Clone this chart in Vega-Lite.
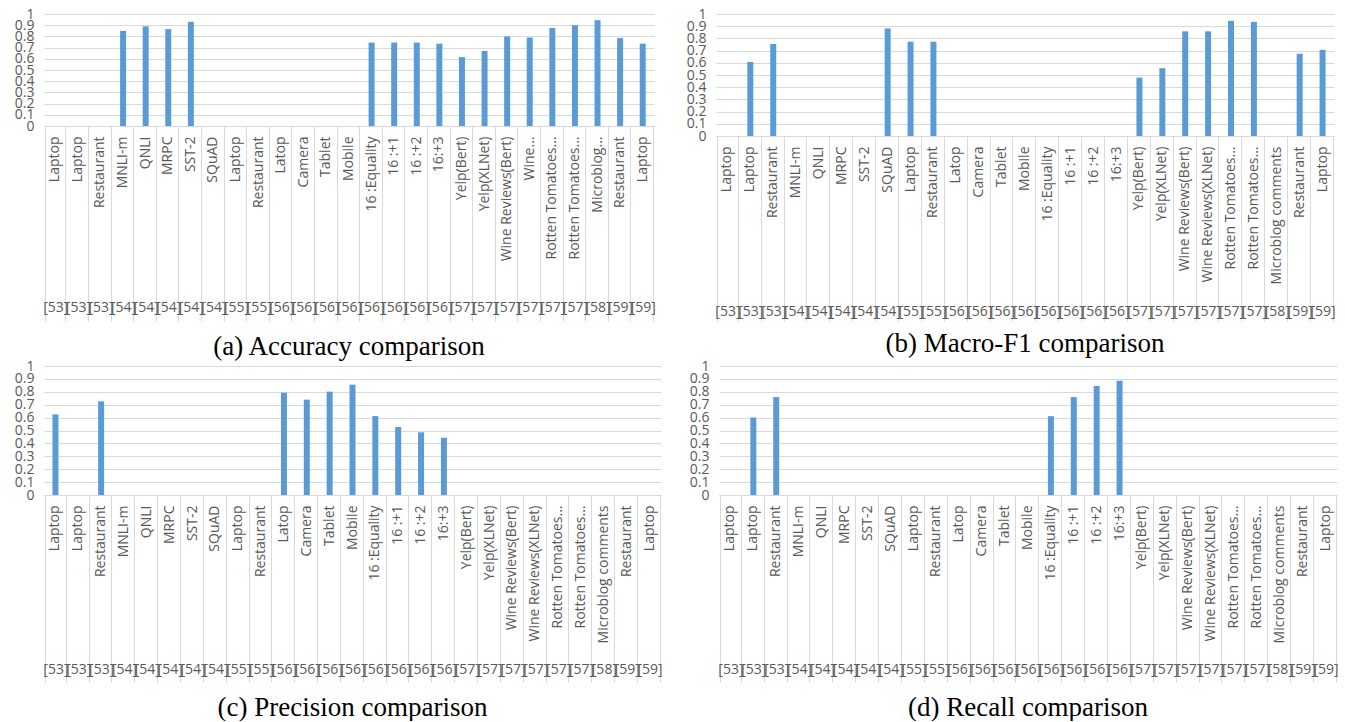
{
  "$schema": "https://vega.github.io/schema/vega-lite/v6.json",
  "background": "white",
  "padding": {"left": 14, "top": 7, "right": 0, "bottom": 0},
  "config": {
    "view": {"stroke": null},
    "axis": {"labelFont": "Open Sans", "labelFontSize": 14, "labelColor": "#595959"},
    "title": {"font": "Liberation Serif", "fontSize": 27, "fontWeight": "normal", "color": "#000000"}
  },
  "datasets": {
    "acc": [
      {"cat": "01|Laptop|[53]", "value": null},
      {"cat": "02|Laptop|[53]", "value": null},
      {"cat": "03|Restaurant|[53]", "value": null},
      {"cat": "04|MNLI-m|[54]", "value": 0.85},
      {"cat": "05|QNLI|[54]", "value": 0.89},
      {"cat": "06|MRPC|[54]", "value": 0.865},
      {"cat": "07|SST-2|[54]", "value": 0.93},
      {"cat": "08|SQuAD|[54]", "value": null},
      {"cat": "09|Laptop|[55]", "value": null},
      {"cat": "10|Restaurant|[55]", "value": null},
      {"cat": "11|Latop|[56]", "value": null},
      {"cat": "12|Camera|[56]", "value": null},
      {"cat": "13|Tablet|[56]", "value": null},
      {"cat": "14|Mobile|[56]", "value": null},
      {"cat": "15|16 :Equality|[56]", "value": 0.745},
      {"cat": "16|16 :+1|[56]", "value": 0.745},
      {"cat": "17|16 :+2|[56]", "value": 0.745},
      {"cat": "18|16:+3|[56]", "value": 0.735},
      {"cat": "19|Yelp(Bert)|[57]", "value": 0.615},
      {"cat": "20|Yelp(XLNet)|[57]", "value": 0.67},
      {"cat": "21|Wine Reviews(Bert)|[57]", "value": 0.8},
      {"cat": "22|Wine...|[57]", "value": 0.79},
      {"cat": "23|Rotten Tomatoes...|[57]", "value": 0.875},
      {"cat": "24|Rotten Tomatoes...|[57]", "value": 0.9},
      {"cat": "25|Microblog...|[58]", "value": 0.945},
      {"cat": "26|Restaurant|[59]", "value": 0.785},
      {"cat": "27|Laptop|[59]", "value": 0.735}
    ],
    "f1": [
      {"cat": "01|Laptop|[53]", "value": null},
      {"cat": "02|Laptop|[53]", "value": 0.607},
      {"cat": "03|Restaurant|[53]", "value": 0.754},
      {"cat": "04|MNLI-m|[54]", "value": null},
      {"cat": "05|QNLI|[54]", "value": null},
      {"cat": "06|MRPC|[54]", "value": null},
      {"cat": "07|SST-2|[54]", "value": null},
      {"cat": "08|SQuAD|[54]", "value": 0.882},
      {"cat": "09|Laptop|[55]", "value": 0.773},
      {"cat": "10|Restaurant|[55]", "value": 0.773},
      {"cat": "11|Latop|[56]", "value": null},
      {"cat": "12|Camera|[56]", "value": null},
      {"cat": "13|Tablet|[56]", "value": null},
      {"cat": "14|Mobile|[56]", "value": null},
      {"cat": "15|16 :Equality|[56]", "value": null},
      {"cat": "16|16 :+1|[56]", "value": null},
      {"cat": "17|16 :+2|[56]", "value": null},
      {"cat": "18|16:+3|[56]", "value": null},
      {"cat": "19|Yelp(Bert)|[57]", "value": 0.479},
      {"cat": "20|Yelp(XLNet)|[57]", "value": 0.556},
      {"cat": "21|Wine Reviews(Bert)|[57]", "value": 0.858},
      {"cat": "22|Wine Reviews(XLNet)|[57]", "value": 0.858},
      {"cat": "23|Rotten Tomatoes...|[57]", "value": 0.944},
      {"cat": "24|Rotten Tomatoes...|[57]", "value": 0.936},
      {"cat": "25|Microblog comments|[58]", "value": null},
      {"cat": "26|Restaurant|[59]", "value": 0.674},
      {"cat": "27|Laptop|[59]", "value": 0.706}
    ],
    "prec": [
      {"cat": "01|Laptop|[53]", "value": 0.625},
      {"cat": "02|Laptop|[53]", "value": null},
      {"cat": "03|Restaurant|[53]", "value": 0.726},
      {"cat": "04|MNLI-m|[54]", "value": null},
      {"cat": "05|QNLI|[54]", "value": null},
      {"cat": "06|MRPC|[54]", "value": null},
      {"cat": "07|SST-2|[54]", "value": null},
      {"cat": "08|SQuAD|[54]", "value": null},
      {"cat": "09|Laptop|[55]", "value": null},
      {"cat": "10|Restaurant|[55]", "value": null},
      {"cat": "11|Latop|[56]", "value": 0.793},
      {"cat": "12|Camera|[56]", "value": 0.739},
      {"cat": "13|Tablet|[56]", "value": 0.801},
      {"cat": "14|Mobile|[56]", "value": 0.855},
      {"cat": "15|16 :Equality|[56]", "value": 0.612},
      {"cat": "16|16 :+1|[56]", "value": 0.527},
      {"cat": "17|16 :+2|[56]", "value": 0.486},
      {"cat": "18|16:+3|[56]", "value": 0.444},
      {"cat": "19|Yelp(Bert)|[57]", "value": null},
      {"cat": "20|Yelp(XLNet)|[57]", "value": null},
      {"cat": "21|Wine Reviews(Bert)|[57]", "value": null},
      {"cat": "22|Wine Reviews(XLNet)|[57]", "value": null},
      {"cat": "23|Rotten Tomatoes...|[57]", "value": null},
      {"cat": "24|Rotten Tomatoes...|[57]", "value": null},
      {"cat": "25|Microblog comments|[58]", "value": null},
      {"cat": "26|Restaurant|[59]", "value": null},
      {"cat": "27|Laptop|[59]", "value": null}
    ],
    "rec": [
      {"cat": "01|Laptop|[53]", "value": null},
      {"cat": "02|Laptop|[53]", "value": 0.601},
      {"cat": "03|Restaurant|[53]", "value": 0.759},
      {"cat": "04|MNLI-m|[54]", "value": null},
      {"cat": "05|QNLI|[54]", "value": null},
      {"cat": "06|MRPC|[54]", "value": null},
      {"cat": "07|SST-2|[54]", "value": null},
      {"cat": "08|SQuAD|[54]", "value": null},
      {"cat": "09|Laptop|[55]", "value": null},
      {"cat": "10|Restaurant|[55]", "value": null},
      {"cat": "11|Latop|[56]", "value": null},
      {"cat": "12|Camera|[56]", "value": null},
      {"cat": "13|Tablet|[56]", "value": null},
      {"cat": "14|Mobile|[56]", "value": null},
      {"cat": "15|16 :Equality|[56]", "value": 0.611},
      {"cat": "16|16 :+1|[56]", "value": 0.759},
      {"cat": "17|16 :+2|[56]", "value": 0.845},
      {"cat": "18|16:+3|[56]", "value": 0.886},
      {"cat": "19|Yelp(Bert)|[57]", "value": null},
      {"cat": "20|Yelp(XLNet)|[57]", "value": null},
      {"cat": "21|Wine Reviews(Bert)|[57]", "value": null},
      {"cat": "22|Wine Reviews(XLNet)|[57]", "value": null},
      {"cat": "23|Rotten Tomatoes...|[57]", "value": null},
      {"cat": "24|Rotten Tomatoes...|[57]", "value": null},
      {"cat": "25|Microblog comments|[58]", "value": null},
      {"cat": "26|Restaurant|[59]", "value": null},
      {"cat": "27|Laptop|[59]", "value": null}
    ]
  },
  "vconcat": [
    {
      "hconcat": [
        {
          "data": {"name": "acc"},
          "width": 610, "height": 112,
          "title": {"text": "(a) Accuracy comparison", "orient": "bottom", "offset": 12},
          "layer": [
            {
              "mark": {"type": "bar", "size": 6, "color": "#5b9bd5"},
              "encoding": {
                "x": {"field": "cat", "type": "nominal", "sort": "ascending",
                  "axis": {"orient": "bottom", "title": null, "labelExpr": "split(datum.value,'|')[1]", "labelAngle": -90, "labelAlign": "right", "labelBaseline": "middle", "labelPadding": 10, "ticks": false, "domain": true, "domainColor": "#d9d9d9", "labelOverlap": false, "labelLimit": 200}},
                "y": {"field": "value", "type": "quantitative", "scale": {"domain": [0, 1]},
                  "axis": {"title": null, "values": [0, 0.1, 0.2, 0.3, 0.4, 0.5, 0.6, 0.7, 0.8, 0.9, 1], "format": ".1~f", "grid": true, "gridColor": "#d9d9d9", "domain": false, "ticks": false, "labelPadding": 10, "labelOverlap": false}}
              }
            },
            {
              "mark": {"type": "point", "opacity": 0},
              "encoding": {
                "x": {"field": "cat", "type": "nominal", "sort": "ascending",
                  "axis": {"orient": "bottom", "title": null, "labelExpr": "split(datum.value,'|')[2]", "labelAngle": 0, "labelAlign": "center", "labelBaseline": "middle", "ticks": true, "tickBand": "extent", "tickSize": 195, "tickColor": "#d9d9d9", "domain": false, "labelPadding": -14, "labelOverlap": false}}
              }
            }
          ],
          "resolve": {"axis": {"x": "independent"}}
        },
        {
          "data": {"name": "f1"},
          "width": 618, "height": 122,
          "title": {"text": "(b) Macro-F1 comparison", "orient": "bottom", "offset": 9},
          "layer": [
            {
              "mark": {"type": "bar", "size": 6, "color": "#5b9bd5"},
              "encoding": {
                "x": {"field": "cat", "type": "nominal", "sort": "ascending",
                  "axis": {"orient": "bottom", "title": null, "labelExpr": "split(datum.value,'|')[1]", "labelAngle": -90, "labelAlign": "right", "labelBaseline": "middle", "labelPadding": 10, "ticks": false, "domain": true, "domainColor": "#d9d9d9", "labelOverlap": false, "labelLimit": 200}},
                "y": {"field": "value", "type": "quantitative", "scale": {"domain": [0, 1]},
                  "axis": {"title": null, "values": [0, 0.1, 0.2, 0.3, 0.4, 0.5, 0.6, 0.7, 0.8, 0.9, 1], "format": ".1~f", "grid": true, "gridColor": "#d9d9d9", "domain": false, "ticks": false, "labelPadding": 10, "labelOverlap": false}}
              }
            },
            {
              "mark": {"type": "point", "opacity": 0},
              "encoding": {
                "x": {"field": "cat", "type": "nominal", "sort": "ascending",
                  "axis": {"orient": "bottom", "title": null, "labelExpr": "split(datum.value,'|')[2]", "labelAngle": 0, "labelAlign": "center", "labelBaseline": "middle", "ticks": true, "tickBand": "extent", "tickSize": 185, "tickColor": "#d9d9d9", "domain": false, "labelPadding": -10, "labelOverlap": false}}
              }
            }
          ],
          "resolve": {"axis": {"x": "independent"}}
        }
      ],
      "spacing": 30
    },
    {
      "hconcat": [
        {
          "data": {"name": "prec"},
          "width": 617, "height": 129,
          "title": {"text": "(c) Precision comparison", "orient": "bottom", "offset": 12},
          "layer": [
            {
              "mark": {"type": "bar", "size": 6, "color": "#5b9bd5"},
              "encoding": {
                "x": {"field": "cat", "type": "nominal", "sort": "ascending",
                  "axis": {"orient": "bottom", "title": null, "labelExpr": "split(datum.value,'|')[1]", "labelAngle": -90, "labelAlign": "right", "labelBaseline": "middle", "labelPadding": 10, "ticks": false, "domain": true, "domainColor": "#d9d9d9", "labelOverlap": false, "labelLimit": 200}},
                "y": {"field": "value", "type": "quantitative", "scale": {"domain": [0, 1]},
                  "axis": {"title": null, "values": [0, 0.1, 0.2, 0.3, 0.4, 0.5, 0.6, 0.7, 0.8, 0.9, 1], "format": ".1~f", "grid": true, "gridColor": "#d9d9d9", "domain": false, "ticks": false, "labelPadding": 10, "labelOverlap": false}}
              }
            },
            {
              "mark": {"type": "point", "opacity": 0},
              "encoding": {
                "x": {"field": "cat", "type": "nominal", "sort": "ascending",
                  "axis": {"orient": "bottom", "title": null, "labelExpr": "split(datum.value,'|')[2]", "labelAngle": 0, "labelAlign": "center", "labelBaseline": "middle", "ticks": true, "tickBand": "extent", "tickSize": 187, "tickColor": "#d9d9d9", "domain": false, "labelPadding": -13, "labelOverlap": false}}
              }
            }
          ],
          "resolve": {"axis": {"x": "independent"}}
        },
        {
          "data": {"name": "rec"},
          "width": 618, "height": 129,
          "title": {"text": "(d) Recall comparison", "orient": "bottom", "offset": 12},
          "layer": [
            {
              "mark": {"type": "bar", "size": 6, "color": "#5b9bd5"},
              "encoding": {
                "x": {"field": "cat", "type": "nominal", "sort": "ascending",
                  "axis": {"orient": "bottom", "title": null, "labelExpr": "split(datum.value,'|')[1]", "labelAngle": -90, "labelAlign": "right", "labelBaseline": "middle", "labelPadding": 10, "ticks": false, "domain": true, "domainColor": "#d9d9d9", "labelOverlap": false, "labelLimit": 200}},
                "y": {"field": "value", "type": "quantitative", "scale": {"domain": [0, 1]},
                  "axis": {"title": null, "values": [0, 0.1, 0.2, 0.3, 0.4, 0.5, 0.6, 0.7, 0.8, 0.9, 1], "format": ".1~f", "grid": true, "gridColor": "#d9d9d9", "domain": false, "ticks": false, "labelPadding": 10, "labelOverlap": false}}
              }
            },
            {
              "mark": {"type": "point", "opacity": 0},
              "encoding": {
                "x": {"field": "cat", "type": "nominal", "sort": "ascending",
                  "axis": {"orient": "bottom", "title": null, "labelExpr": "split(datum.value,'|')[2]", "labelAngle": 0, "labelAlign": "center", "labelBaseline": "middle", "ticks": true, "tickBand": "extent", "tickSize": 187, "tickColor": "#d9d9d9", "domain": false, "labelPadding": -13, "labelOverlap": false}}
              }
            }
          ],
          "resolve": {"axis": {"x": "independent"}}
        }
      ],
      "spacing": 26
    }
  ],
  "spacing": -1
}
